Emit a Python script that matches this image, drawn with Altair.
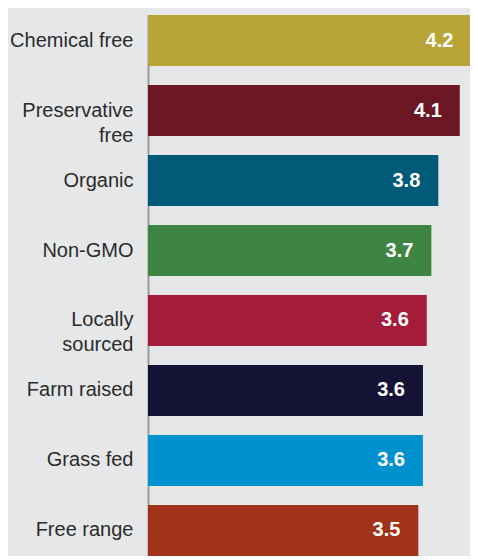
import altair as alt
import pandas as pd

categories = ["Chemical free", "Preservative|free", "Organic", "Non-GMO",
              "Locally|sourced", "Farm raised", "Grass fed", "Free range"]
values = [4.21, 4.06, 3.78, 3.69, 3.63, 3.58, 3.58, 3.52]
labels = ["4.2", "4.1", "3.8", "3.7", "3.6", "3.6", "3.6", "3.5"]
colors = ["#B9A438", "#6C1824", "#005A78", "#3E8544",
          "#A31D3A", "#151335", "#0091CF", "#A0331A"]

df = pd.DataFrame({"cat": categories, "val": values, "lab": labels, "col": colors})

FONT = "Liberation Sans"
W = 322

y = alt.Y("cat:N", sort=categories,
          scale=alt.Scale(paddingInner=0.27, paddingOuter=0.0),
          axis=alt.Axis(title=None, ticks=False, domain=True, domainColor="#9a9a9a",
                        domainWidth=2, labelExpr="split(datum.label, '|')",
                        labelFont=FONT, labelFontSize=20, labelColor="#2b2b2b",
                        labelPadding=15, labelLineHeight=25, labelLimit=200))
x = alt.X("val:Q", scale=alt.Scale(domain=[0, W / 76.8], nice=False, zero=True), axis=None)

bars = alt.Chart(df).mark_bar(cornerRadius=0, clip=False).encode(
    x=x, y=y, color=alt.Color("col:N", scale=None))

text = alt.Chart(df).mark_text(align="right", dx=-18, color="white", font=FONT,
                               fontWeight="bold", fontSize=20, baseline="middle").encode(
    x=x, y=alt.Y("cat:N", sort=categories), text="lab:N")

chart = (bars + text).properties(
    width=W, height=541,
    autosize=alt.AutoSizeParams(type="none"),
    padding={"left": 140, "top": 7, "right": 0, "bottom": 0},
    background="#E6E7E9",
).configure_view(stroke=None)

chart.save("out.html", embed_options={"renderer": "svg", "actions": False})
